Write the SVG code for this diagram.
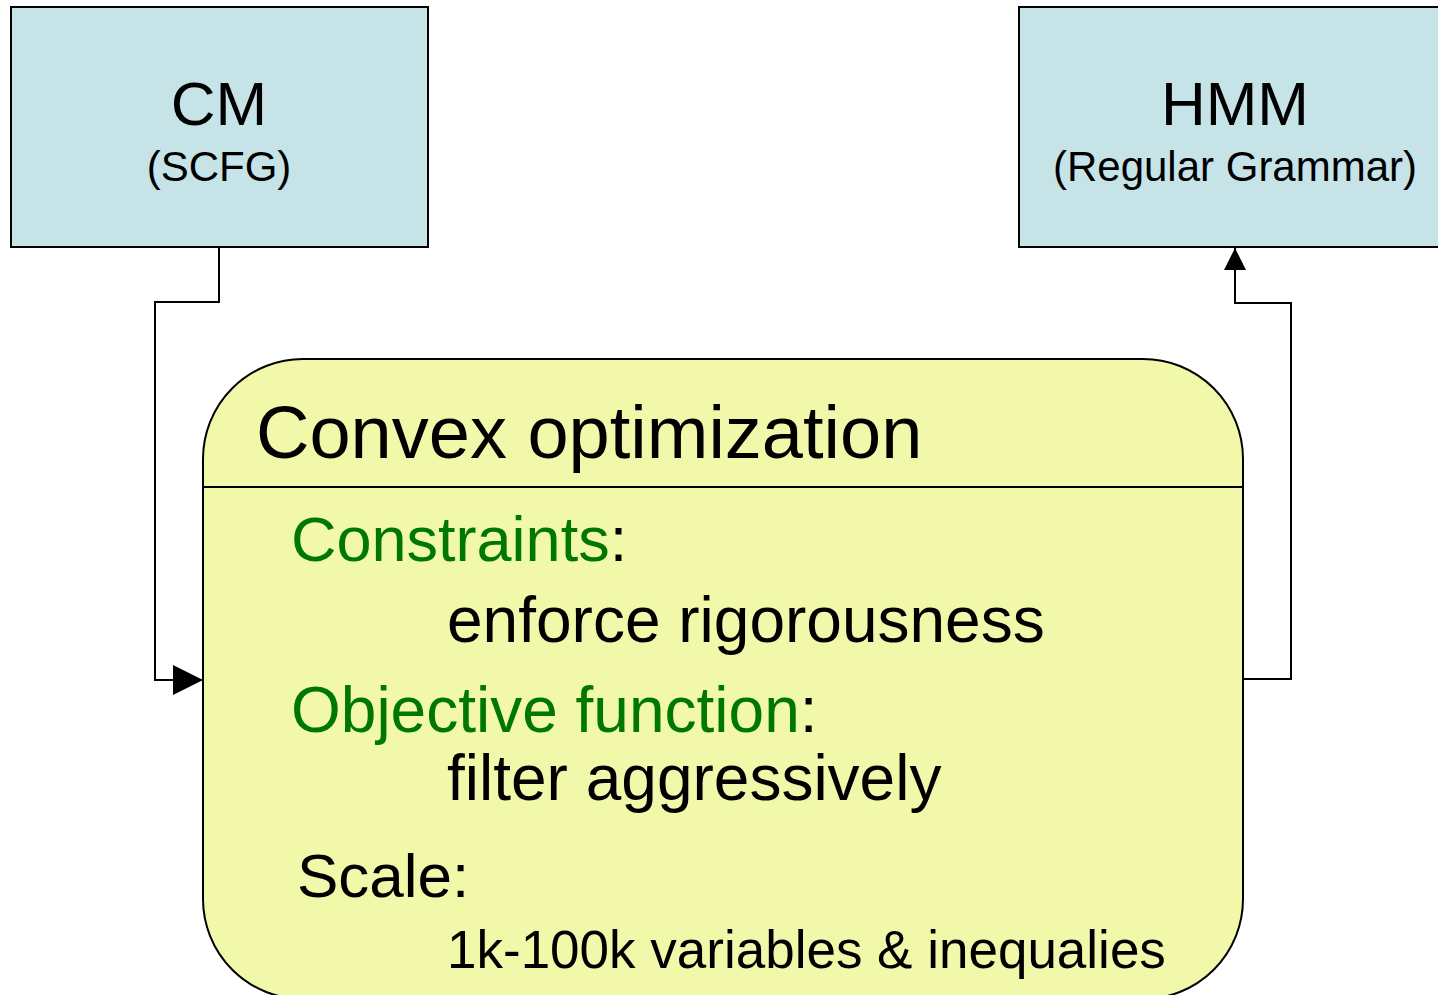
<svg xmlns="http://www.w3.org/2000/svg" width="1438" height="995" viewBox="0 0 1438 995">
<style>
text{font-family:"Liberation Sans",Arial,sans-serif;fill:#000}
.box{fill:#C6E4E8;stroke:#000;stroke-width:2}
.big{fill:#F2F8AA;stroke:#000;stroke-width:2}
.con{fill:none;stroke:#000;stroke-width:2}
.g{fill:#007800}
</style>
<defs>
<marker id="ah2" viewBox="0 0 30 30" refX="30" refY="15" markerWidth="30" markerHeight="30" orient="auto" markerUnits="userSpaceOnUse">
<path d="M0,0 L30,15 L0,30 Z" fill="#000"/>
</marker>
<marker id="ah3" viewBox="0 0 22 22" refX="22" refY="11" markerWidth="22" markerHeight="22" orient="auto" markerUnits="userSpaceOnUse">
<path d="M0,0 L22,11 L0,22 Z" fill="#000"/>
</marker>
</defs>
<g id="connectors">
<path class="con" d="M219,247 V302 H155 V680 H203" marker-end="url(#ah2)"/>
<path class="con" d="M1243,679 H1291 V303 H1235 V248" marker-end="url(#ah3)"/>
</g>
<g id="cm">
<rect class="box" x="11" y="7" width="417" height="240"/>
<text x="219" y="125" font-size="62" text-anchor="middle">CM</text>
<text x="219" y="181" font-size="42" text-anchor="middle">(SCFG)</text>
</g>
<g id="hmm">
<rect class="box" x="1019" y="7" width="430" height="240"/>
<text x="1235" y="125" font-size="62" text-anchor="middle">HMM</text>
<text x="1235" y="181" font-size="42" text-anchor="middle">(Regular Grammar)</text>
</g>
<g id="convex">
<rect class="big" x="203" y="359" width="1040" height="640" rx="100" ry="100"/>
<line class="con" x1="203" y1="487" x2="1243" y2="487"/>
<text x="256" y="458" font-size="74">Convex optimization</text>
<text x="291" y="561" font-size="63"><tspan class="g">Constraints</tspan>:</text>
<text x="447" y="642" font-size="64">enforce rigorousness</text>
<text x="291" y="732" font-size="64"><tspan class="g">Objective function</tspan>:</text>
<text x="447" y="800" font-size="64">filter aggressively</text>
<text x="297" y="897" font-size="62">Scale:</text>
<text x="447" y="968" font-size="53">1k-100k variables &amp; inequalies</text>
</g>
</svg>
